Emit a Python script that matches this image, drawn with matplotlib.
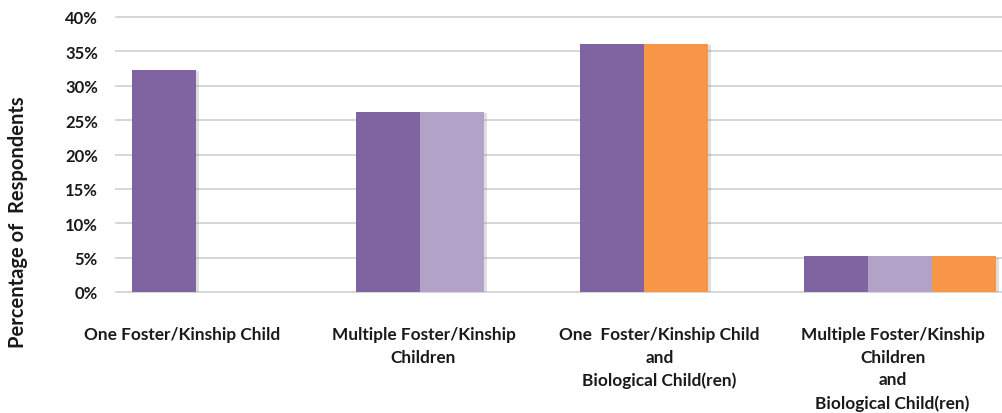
import matplotlib
matplotlib.use('Agg')
import matplotlib.pyplot as plt
import matplotlib.patheffects as pe

categories = [
    'One Foster/Kinship Child',
    'Multiple Foster/Kinship\nChildren',
    'One  Foster/Kinship Child\nand\nBiological Child(ren)',
    'Multiple Foster/Kinship\nChildren\nand\nBiological Child(ren)',
]
# percent of respondents per series (None = no bar in that group)
purple_values = [32.3, 26.2, 36.1, 5.2]
lavender_values = [None, 26.2, None, 5.2]
orange_values = [None, None, 36.1, 5.2]
series_colors = ['#8064A2', '#B3A2C7', '#F79646']
y_ticks = [0, 5, 10, 15, 20, 25, 30, 35, 40]

# label centers in category units (labels in source are not centered on clusters)
label_x = [-0.203, 0.873, 1.926, 2.967]

plt.rcParams['font.family'] = ['Lato', 'DejaVu Sans']

fig = plt.figure(figsize=(10.03, 4.14), dpi=100)
ax = fig.add_axes([116 / 1003, 121 / 414, 887 / 1003, 275 / 414])

bar_w = 64 / 224
shadow = [pe.withSimplePatchShadow(offset=(2.5, -1), shadow_rgbFace='#808080', alpha=0.25)]
for i in range(len(categories)):
    group = [(v, c) for v, c in zip(
        [purple_values[i], lavender_values[i], orange_values[i]], series_colors) if v is not None]
    for slot, (v, c) in enumerate(group):
        x = i - 1.5 * bar_w + slot * bar_w
        ax.bar(x, v, width=bar_w, align='edge', color=c, zorder=3 + slot, path_effects=shadow)

ax.set_xlim(-0.5, -0.5 + 887 / 224)
ax.set_ylim(0, 40)
ax.set_yticks(y_ticks)
ax.set_yticklabels([f'{t}%' for t in y_ticks], fontsize=12, fontweight='bold', color='#1a1a1a')
ax.tick_params(axis='y', length=0, pad=13)
ax.set_xticks([])
for s in ax.spines.values():
    s.set_visible(False)
for t in y_ticks:
    ax.axhline(t, color='#d0d0d0', linewidth=1.2, zorder=1, clip_on=False)

for lx, lab in zip(label_x, categories):
    ax.text(lx, -0.125, lab, transform=ax.get_xaxis_transform(), ha='center', va='top',
            fontsize=12.4, fontweight='bold', color='#1a1a1a', linespacing=1.5, multialignment='center')

fig.text(18 / 1003, 1 - 222 / 414, 'Percentage of  Respondents', rotation=90, ha='center',
         va='center', fontsize=14.5, fontweight='bold', color='#1a1a1a')

fig.savefig('out.png', dpi=100)
